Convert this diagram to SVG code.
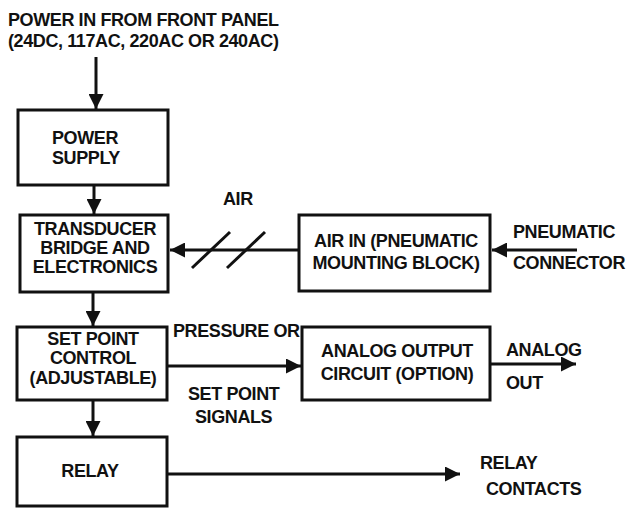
<svg xmlns="http://www.w3.org/2000/svg" width="627" height="513" viewBox="0 0 627 513">
<style>
text{font-family:"Liberation Sans",Arial,sans-serif;font-weight:bold;font-size:18px;fill:#111;letter-spacing:-0.4px}
.box{fill:#fff;stroke:#111;stroke-width:3}
.ln{stroke:#111;stroke-width:3;fill:none}
.c{text-anchor:middle}
</style>
<defs>
<marker id="ah" viewBox="0 0 10 10" refX="10" refY="5" markerWidth="5" markerHeight="5" orient="auto" markerUnits="strokeWidth">
<path d="M0,0 L10,5 L0,10 Z" fill="#111"/>
</marker>
</defs>
<rect width="627" height="513" fill="#fff"/>
<g id="title">
<text x="8" y="26">POWER IN FROM FRONT PANEL</text>
<text x="8" y="47">(24DC, 117AC, 220AC OR 240AC)</text>
</g>
<g id="connectors">
<line class="ln" x1="96" y1="57" x2="96" y2="109" marker-end="url(#ah)"/>
<line class="ln" x1="94" y1="186" x2="94" y2="214" marker-end="url(#ah)"/>
<line class="ln" x1="93" y1="293" x2="93" y2="326" marker-end="url(#ah)"/>
<line class="ln" x1="93" y1="401" x2="93" y2="436" marker-end="url(#ah)"/>
<line class="ln" x1="298" y1="250" x2="170" y2="250" marker-end="url(#ah)"/>
<line class="ln" x1="192" y1="268" x2="230" y2="232"/>
<line class="ln" x1="227" y1="268" x2="265" y2="232"/>
<line class="ln" x1="577" y1="250" x2="492" y2="250" marker-end="url(#ah)"/>
<line class="ln" x1="168" y1="366" x2="301" y2="366" marker-end="url(#ah)"/>
<line class="ln" x1="491" y1="364" x2="576" y2="364" marker-end="url(#ah)"/>
<line class="ln" x1="168" y1="474" x2="460" y2="474" marker-end="url(#ah)"/>
<text x="223" y="205">AIR</text>
<text x="173" y="337">PRESSURE OR</text>
<text x="188" y="400">SET POINT</text>
<text x="195" y="423">SIGNALS</text>
<text x="506" y="356">ANALOG</text>
<text x="506" y="389">OUT</text>
<text x="513" y="238">PNEUMATIC</text>
<text x="513" y="269">CONNECTOR</text>
<text x="480" y="469">RELAY</text>
<text x="486" y="495">CONTACTS</text>
</g>
<g id="power-supply">
<rect class="box" x="18" y="110" width="150" height="75"/>
<text x="52" y="144">POWER</text>
<text x="52" y="164">SUPPLY</text>
</g>
<g id="transducer">
<rect class="box" x="20" y="215" width="148" height="77"/>
<text class="c" x="95" y="235">TRANSDUCER</text>
<text class="c" x="95" y="254">BRIDGE AND</text>
<text class="c" x="95" y="273">ELECTRONICS</text>
</g>
<g id="air-in">
<rect class="box" x="299" y="215" width="191" height="76"/>
<text class="c" x="396" y="247">AIR IN (PNEUMATIC</text>
<text class="c" x="396" y="269">MOUNTING BLOCK)</text>
</g>
<g id="set-point">
<rect class="box" x="17" y="327" width="150" height="73"/>
<text class="c" x="93" y="345">SET POINT</text>
<text class="c" x="93" y="364">CONTROL</text>
<text class="c" x="93" y="384">(ADJUSTABLE)</text>
</g>
<g id="analog-output">
<rect class="box" x="302" y="327" width="188" height="73"/>
<text class="c" x="397" y="357">ANALOG OUTPUT</text>
<text class="c" x="397" y="380">CIRCUIT (OPTION)</text>
</g>
<g id="relay">
<rect class="box" x="17" y="437" width="150" height="69"/>
<text class="c" x="90" y="477">RELAY</text>
</g>
</svg>
